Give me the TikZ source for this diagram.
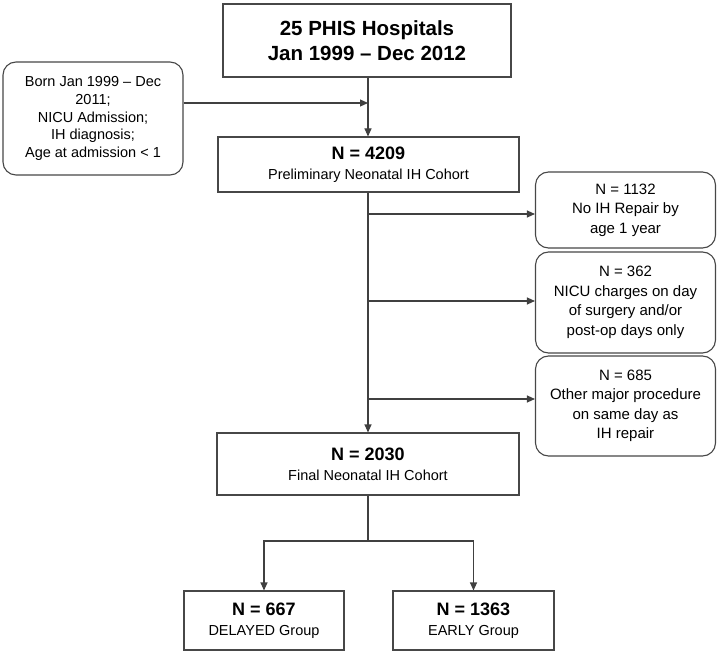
\documentclass[tikz,border=0pt]{standalone}
\usepackage{fontspec}
\setmainfont{Liberation Sans}
\usetikzlibrary{arrows.meta}
\newcommand\bignum[1]{{\fontsize{18}{20}\selectfont\bfseries #1}}
\begin{document}
\begin{tikzpicture}[x=1pt,y=-1pt,
  box/.style={draw=black!72,line width=1.1pt,inner sep=0pt,align=center,fill=white},
  rbox/.style={box,rounded corners=13pt},
  conn/.style={draw=black!75,line width=1.1pt},
  arr/.style={conn,-{Triangle[length=8pt,width=7pt]}},
  txt/.style={font=\fontsize{14.5}{17.6}\selectfont},
  rtxt/.style={font=\fontsize{15}{19.5}\selectfont},
  ntxt/.style={font=\fontsize{14.5}{20}\selectfont}]
\useasboundingbox (0,0) rectangle (720,652);
\node[box,minimum width=288pt,minimum height=73pt,font=\fontsize{20.5}{24.5}\selectfont\bfseries] (top) at (367,40.5) {25 PHIS Hospitals\\Jan 1999 -- Dec 2012};
\node[rbox,txt,minimum width=180pt,minimum height=113pt] (left) at (93,118.5) {Born Jan 1999 -- Dec\\2011;\\NICU Admission;\\IH diagnosis;\\Age at admission {\textless} 1};
\node[box,ntxt,minimum width=301pt,minimum height=55pt] (prel) at (368.5,164.5) {\bignum{N = 4209}\\Preliminary Neonatal IH Cohort};
\node[rbox,rtxt,minimum width=180pt,minimum height=76pt] (ex1) at (625.5,210) {N = 1132\\No IH Repair by\\age 1 year};
\node[rbox,rtxt,minimum width=180pt,minimum height=101pt] (ex2) at (625.5,302.5) {N = 362\\NICU charges on day\\of surgery and/or\\post-op days only};
\node[rbox,rtxt,minimum width=180pt,minimum height=100pt] (ex3) at (625.5,406) {N = 685\\Other major procedure\\on same day as\\IH repair};
\node[box,ntxt,minimum width=302pt,minimum height=62pt] (fin) at (368,464) {\bignum{N = 2030}\\Final Neonatal IH Cohort};
\node[box,ntxt,minimum width=160pt,minimum height=59pt] (del) at (264,620.5) {\bignum{N = 667}\\DELAYED Group};
\node[box,ntxt,minimum width=161pt,minimum height=59pt] (ear) at (473.5,620.5) {\bignum{N = 1363}\\EARLY Group};
\coordinate (j0) at (368,103);
\coordinate (b1) at (368,214);
\coordinate (b2) at (368,301);
\coordinate (b3) at (368,399);
\coordinate (j2) at (368,541);
\path[arr] (top.south -| j0) -- (prel.north -| j0);
\path[arr] (left.east |- j0) -- (j0);
\path[arr] (prel.south -| j0) -- (fin.north -| j0);
\path[arr] (b1) -- (ex1.west |- b1);
\path[arr] (b2) -- (ex2.west |- b2);
\path[arr] (b3) -- (ex3.west |- b3);
\path[conn] (fin.south -| j2) -- (j2);
\path[arr] (j2) -| (del.north);
\path[arr] (j2) -| (ear.north);
\end{tikzpicture}
\end{document}
